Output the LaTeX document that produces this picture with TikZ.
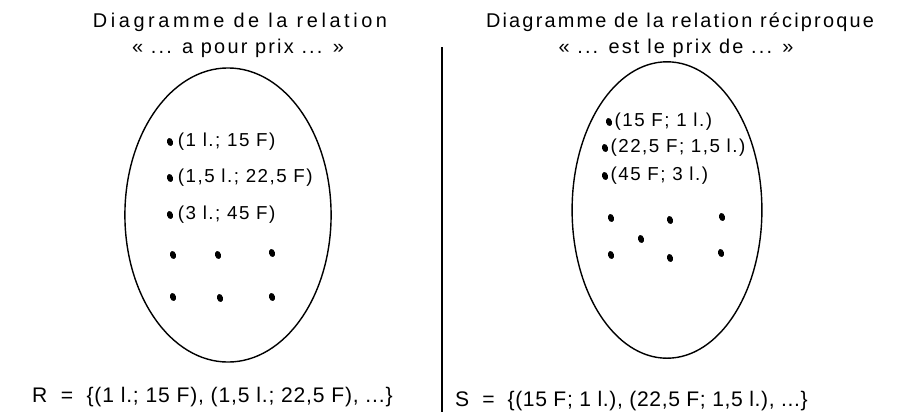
\documentclass[tikz,border=0pt]{standalone}
\usepackage{fontspec}
\setmainfont{Liberation Sans}[LetterSpace=6]
\usetikzlibrary{positioning, shapes.geometric}

\begin{document}
\begin{tikzpicture}[x=0.03cm, y=-0.03cm,
    title/.style={font=\fontsize{17}{20}\selectfont\addfontfeature{LetterSpace=11}, anchor=base, inner sep=0pt},
    pair/.style={font=\fontsize{16}{19}\selectfont\addfontfeature{LetterSpace=8}, inner sep=0pt},
    setline/.style={font=\fontsize{18}{21}\selectfont\addfontfeature{LetterSpace=3}, anchor=base west, inner sep=0pt},
    point/.style={ellipse, fill=black, inner sep=0pt, minimum width=5pt, minimum height=7pt, rotate=15},
    set/.style={ellipse, draw, line width=1.2pt, inner sep=0pt}]
  \useasboundingbox (0,0) rectangle (898,412);

  % titles
  \node[title, font=\fontsize{17}{20}\selectfont\addfontfeature{LetterSpace=18}] (titleR) at (240,27) {Diagramme de la relation};
  \node[title] (quoteR) at (238,53) {« ... a pour prix ... »};
  \node[title] (titleS) at (680,27) {Diagramme de la relation réciproque};
  \node[title] (quoteS) at (676,53) {« ... est le prix de ... »};

  % separator
  \coordinate (sepTop) at (442,47);
  \coordinate (sepBot) at (442,412);
  \draw[line width=2.4pt] (sepTop) -- (sepBot);

  % relation R
  \node[set, minimum width=176pt, minimum height=251pt] (setR) at (228,215) {};
  \node[point] (dR1) at (170,142) {};
  \node[point] (dR2) at (170,178) {};
  \node[point] (dR3) at (170,215) {};
  \node[pair, right=4pt of dR1] (lR1) {(1 l.; 15 F)};
  \node[pair, right=4pt of dR2] (lR2) {(1,5 l.; 22,5 F)};
  \node[pair, right=4pt of dR3] (lR3) {(3 l.; 45 F)};
  \foreach \x/\y [count=\i] in {173/255, 218/255, 272/253, 173/297, 220/298, 272/297}
    \node[point] (gR\i) at (\x,\y) {};

  % relation S
  \node[set, minimum width=162pt, minimum height=253pt] (setS) at (667,210) {};
  \node[point] (dS1) at (609,122) {};
  \node[point] (dS2) at (605,148) {};
  \node[point] (dS3) at (605,176) {};
  \node[pair, right=2pt of dS1] (lS1) {(15 F; 1 l.)};
  \node[pair, right=2pt of dS2] (lS2) {(22,5 F; 1,5 l.)};
  \node[pair, right=2pt of dS3] (lS3) {(45 F; 3 l.)};
  \foreach \x/\y [count=\i] in {611/218, 670/220, 722/217, 641/239, 611/255, 670/258, 721/253}
    \node[point] (gS\i) at (\x,\y) {};

  % sets as lists
  \node[setline, font=\fontsize{18}{21}\selectfont\addfontfeature{LetterSpace=4}] (listR) at (32,402) {R \ = \ \{(1 l.; 15 F), (1,5 l.; 22,5 F), ...\}};
  \node[setline] (listS) at (455,406) {S \ = \ \{(15 F; 1 l.), (22,5 F; 1,5 l.), ...\}};
\end{tikzpicture}
\end{document}
